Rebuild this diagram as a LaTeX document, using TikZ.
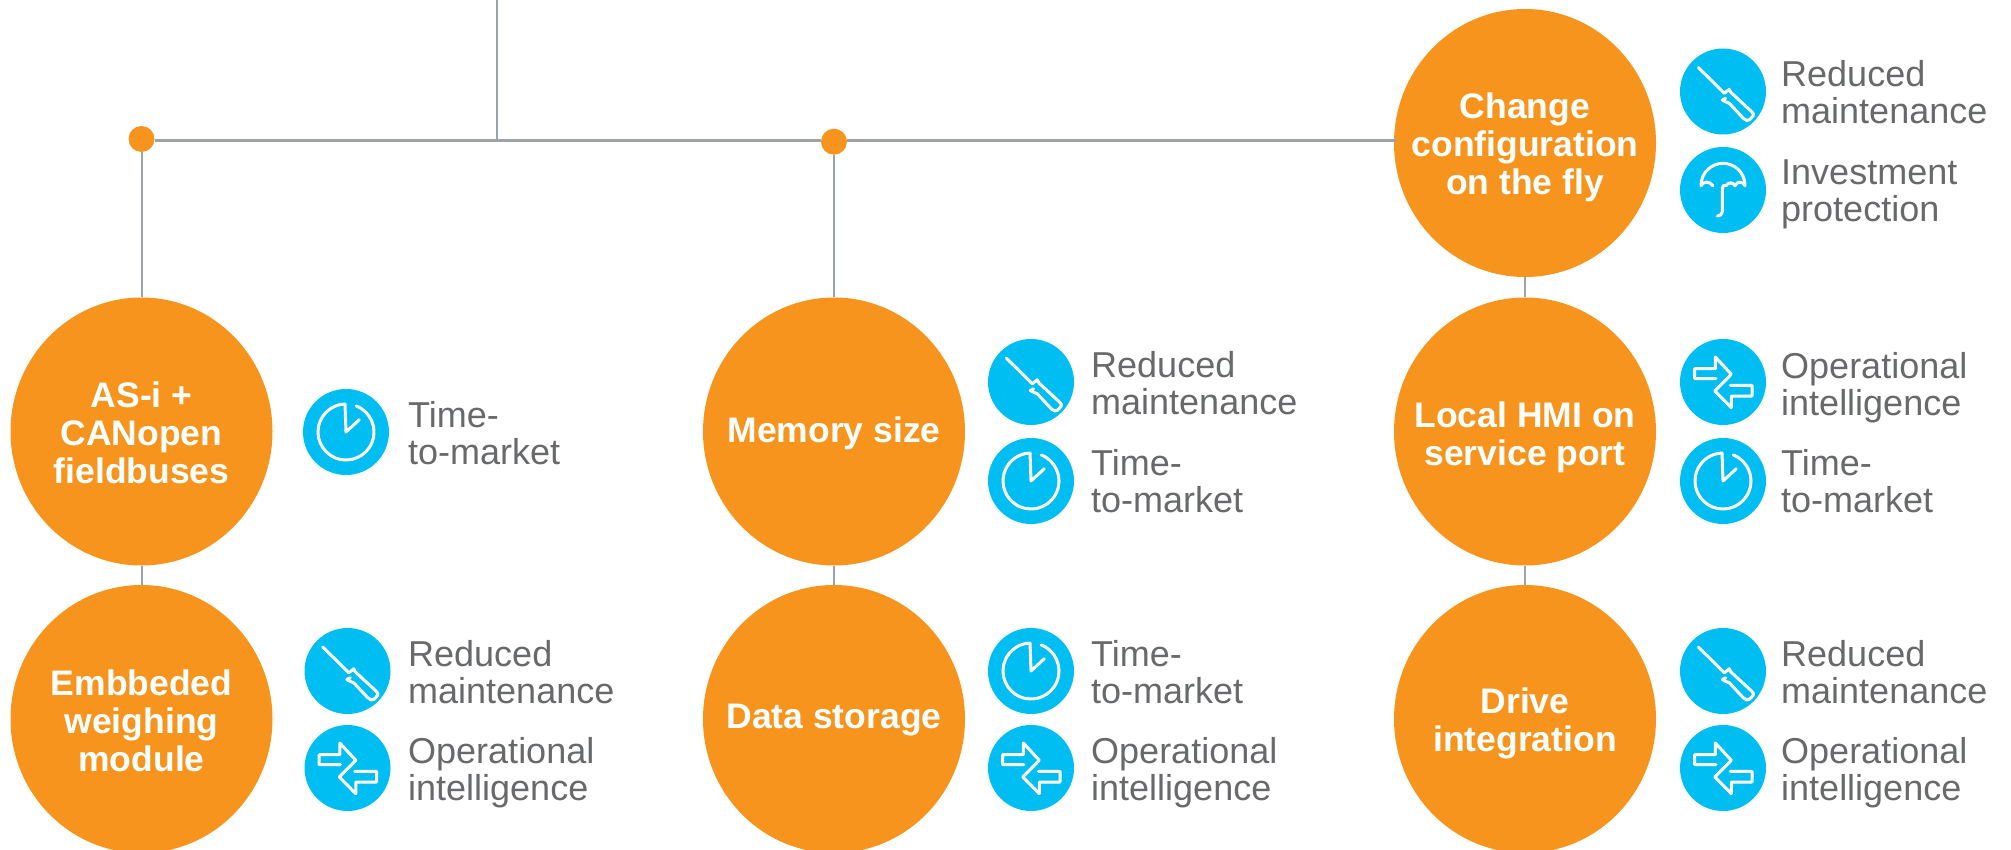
\documentclass[tikz,border=0pt]{standalone}
\usepackage{fontspec}
\usetikzlibrary{shapes.geometric}
\setmainfont{Liberation Sans}
\definecolor{orangeC}{HTML}{F7941E}
\definecolor{cyanC}{HTML}{00BDF2}
\definecolor{lineC}{HTML}{9BA3A9}
\definecolor{textC}{HTML}{68696B}
\begin{document}
\begin{tikzpicture}[x=1pt,y=-1pt,
  feature/.style={ellipse,minimum width=262pt,minimum height=268pt,inner sep=0pt,fill=orangeC},
  featuretext/.style={inner sep=0pt,text=white,align=center,yshift=-4pt,font=\fontsize{35.5}{38}\selectfont\bfseries},
  dotC/.style={circle,minimum size=26pt,inner sep=0pt,fill=orangeC},
  conn/.style={draw=lineC,line width=2pt},
  hconn/.style={draw=lineC,line width=3pt},
  badge/.style={circle,minimum size=86pt,inner sep=0pt,fill=cyanC},
  benefit/.style={text=textC,anchor=base west,inner sep=0pt,align=left,font=\fontsize{36}{37}\selectfont},
  iconline/.style={draw=white,line width=3pt,line cap=round,line join=round},
  pics/clockicon/.style={code={
    \node[badge] at (0,0) {};
    \draw[iconline] (0,0) ++(-68.7:28) arc[start angle=-68.7,end angle=268,radius=28] -- (0,0) -- (13.3,-12.3);
  }},
  pics/drivericon/.style={code={
    \node[badge] at (0,0) {};
    \draw[iconline] (-24.7,-24) -- (1.3,1.8) -- (6.3,-2.2) -- (7.7,0.8) -- (28.7,20.2) .. controls (30.5,22) and (31,23) .. (30,24.5) -- (26.5,28.3) .. controls (25,30) and (22.5,28.8) .. (20.3,26.8) -- (6.3,11.8) .. controls (3.5,10.5) and (1,10) .. (-0.7,8.5) -- (2.7,6.8);
  }},
  pics/arrowicon/.style={code={
    \node[badge] at (0,0) {};
    \draw[iconline] (-7,-3.3) -- (-28.3,-3.3) -- (-28.3,-13.3) -- (-7.7,-13.3) -- (-7.7,-25) -- (8.3,-7.7) -- (-8.3,9) -- (8.3,25.7) -- (8.3,14) -- (29,14) -- (29,3.3) -- (7.3,3.3);
  }},
  pics/umbrellaicon/.style={code={
    \node[badge] at (0,0) {};
    \draw[iconline] (-22,-4.3) .. controls (-22,-18) and (-11,-26.7) .. (0,-26.7) .. controls (11,-26.7) and (22,-18) .. (22,-4.3);
    \draw[iconline] (-22,-4.3) .. controls (-20,-9) and (-13,-9) .. (-10.3,-4.3);
    \draw[iconline] (3,-4.3) .. controls (5,-8) and (10,-8) .. (12,-4.3) .. controls (14,-9) and (20,-9) .. (22,-4.3);
    \draw[iconline] (3,-4.3) .. controls (1,-5.5) and (-0.7,-4.5) .. (-0.7,-1.7) -- (-0.7,21.7) .. controls (-0.7,24.5) and (-3,26) .. (-5.7,26);
  }}]
\useasboundingbox (0,0) rectangle (2011,850);
% feature circles
\node[feature] (c1) at (141.5,431.5) {};
\node[feature] (c2) at (141.5,719) {};
\node[feature] (c3) at (834,431.5) {};
\node[feature] (c4) at (834,719) {};
\node[feature] (c5) at (1525,143) {};
\node[feature] (c6) at (1525,431.5) {};
\node[feature] (c7) at (1525,719) {};
\node[featuretext,yshift=2.5pt] (l1) at (c1) {AS-i +\\CANopen\\fieldbuses};
\node[featuretext,yshift=2.5pt] (l2) at (c2) {Embbeded\\weighing\\module};
\node[featuretext,yshift=2.5pt] (l3) at (c3) {Memory size};
\node[featuretext,yshift=2.5pt] (l4) at (c4) {Data storage};
\node[featuretext] (l5) at (c5) {Change\\configuration\\on the fly};
\node[featuretext,yshift=-2pt] (l6) at (c6) {Local HMI on\\service port};
\node[featuretext] (l7) at (c7) {Drive\\integration};
% junction dots and line ends
\node[dotC] (d1) at (141.5,139) {};
\node[dotC] (d2) at (834,141.7) {};
\coordinate (top) at (496.5,0);
\coordinate (hr) at (1396,140.3);
\coordinate (mid) at (496.5,140.3);
% connectors
\draw[conn] (top) -- (mid);
\draw[hconn] (d1.east |- hr) -- (d2.west |- hr);
\draw[hconn] (d2.east |- hr) -- (hr);
\draw[conn] (d1) -- (c1);
\draw[conn] (c1) -- (c2);
\draw[conn] (d2) -- (c3);
\draw[conn] (c3) -- (c4);
\draw[conn] (c5) -- (c6);
\draw[conn] (c6) -- (c7);
% icons and labels
\pic at (346,432) {clockicon};
\node[benefit] (t1) at (408,464) {Time-\\to-market};
\pic at (347.5,671) {drivericon};
\node[benefit] (t2) at (408,703) {Reduced\\maintenance};
\pic at (347.5,768) {arrowicon};
\node[benefit] (t3) at (408,800) {Operational\\intelligence};
\pic at (1031,382) {drivericon};
\node[benefit] (t4) at (1091,414) {Reduced\\maintenance};
\pic at (1031,481) {clockicon};
\node[benefit] (t5) at (1091,512) {Time-\\to-market};
\pic at (1031,671) {clockicon};
\node[benefit] (t6) at (1091,703) {Time-\\to-market};
\pic at (1031,768) {arrowicon};
\node[benefit] (t7) at (1091,800) {Operational\\intelligence};
\pic at (1723,91.5) {drivericon};
\node[benefit] (t8) at (1781,124) {Reduced\\maintenance};
\pic at (1723,190) {umbrellaicon};
\node[benefit] (t9) at (1781,222) {Investment\\protection};
\pic at (1723,382) {arrowicon};
\node[benefit] (t10) at (1781,415) {Operational\\intelligence};
\pic at (1723,481) {clockicon};
\node[benefit] (t11) at (1781,512) {Time-\\to-market};
\pic at (1723,671) {drivericon};
\node[benefit] (t12) at (1781,703) {Reduced\\maintenance};
\pic at (1723,768) {arrowicon};
\node[benefit] (t13) at (1781,800) {Operational\\intelligence};
\end{tikzpicture}
\end{document}
